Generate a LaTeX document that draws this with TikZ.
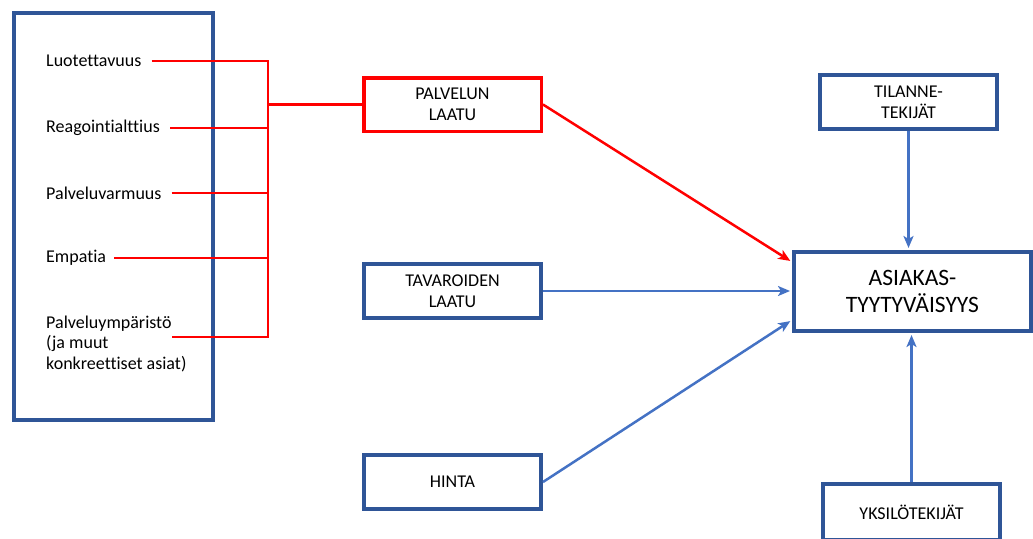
\documentclass[tikz,border=0pt]{standalone}
\usepackage{fontspec}
\setmainfont{Carlito}[Ligatures=NoCommon]
\usetikzlibrary{arrows.meta,positioning}
\definecolor{tummasin}{HTML}{2F5597}
\definecolor{sininen}{HTML}{4472C4}
\definecolor{punainen}{HTML}{FF0000}

\begin{document}
\begin{tikzpicture}[x=1pt, y=-1pt,
      laatikko/.style={rectangle, draw=tummasin, line width=4pt, inner sep=0pt,
                       minimum width=177pt, minimum height=54pt, align=center,
                       font=\fontsize{18}{21}\selectfont},
      laatikkop/.style={laatikko, draw=punainen, line width=3.5pt, minimum width=177.5pt, minimum height=53.5pt},
      tekija/.style={anchor=west, align=left, inner sep=0pt, font=\fontsize{18}{20.5}\selectfont},
      viiva/.style={draw=punainen, line width=2.5pt},
      nuoli/.style={-{Stealth[length=12pt, width=10pt, inset=3pt]}, draw=sininen, line width=2.5pt, shorten >=2pt},
      nuolip/.style={nuoli, draw=punainen}]

    \useasboundingbox (0,0) rectangle (1033,538);

    % vasen kehys ja osatekijat
    \node[draw=tummasin, line width=4pt, minimum width=199pt, minimum height=407pt] (kehys) at (113.5,216.5) {};
    \node[tekija] (l1) at (46,61) {Luotettavuus};
    \node[tekija] (l2) at (46,128) {Reagointialttius};
    \node[tekija] (l3) at (46,193) {Palveluvarmuus};
    \node[tekija] (l4) at (46,258) {Empatia};
    \node[tekija] (l5) at (46,343.5) {Palveluympäristö\\(ja muut\\konkreettiset asiat)};
    \coordinate (l5v) at (172,337);
    \coordinate (runko) at (268,61);

    % laatikot
    \node[laatikkop] (palvelu) at (452.5,104.5) {PALVELUN\\LAATU};
    \node[laatikko] (tavara) at (452.5,291) {TAVAROIDEN\\LAATU};
    \node[laatikko] (hinta) at (452.5,482) {HINTA};
    \node[laatikko, minimum width=237pt, minimum height=79pt,
          font=\fontsize{23.5}{27}\selectfont] (asiakas) at (912.5,291.5) {ASIAKAS-\\TYYTYVÄISYYS};
    \node[laatikko] (tilanne) at (908.5,102) {TILANNE-\\TEKIJÄT};
    \node[laatikko, minimum height=56pt] (yksilo) at (911.5,512) {YKSILÖTEKIJÄT};

    % punaiset viivat
    \draw[viiva] ([xshift=10pt]l1.east) -| (l5v -| runko) -- (l5v);
    \draw[viiva] ([xshift=10pt]l2.east) -- (l2.east -| runko);
    \draw[viiva] ([xshift=10pt]l3.east) -- (l3.east -| runko);
    \draw[viiva] ([xshift=8pt]l4.east) -- (l4.east -| runko);
    \draw[viiva] (palvelu.west -| runko) -- (palvelu.west);

    % nuolet
    \draw[nuolip] (palvelu.east) -- ([yshift=29.5pt]asiakas.west);
    \draw[nuoli] (tavara.east) -- (tavara.east -| asiakas.west);
    \draw[nuoli] (hinta.east) -- ([yshift=-28.5pt]asiakas.west);
    \draw[nuoli] (tilanne.south) -- (tilanne.south |- asiakas.north);
    \draw[nuoli] (yksilo.north) -- (yksilo.north |- asiakas.south);
  \end{tikzpicture}
\end{document}
